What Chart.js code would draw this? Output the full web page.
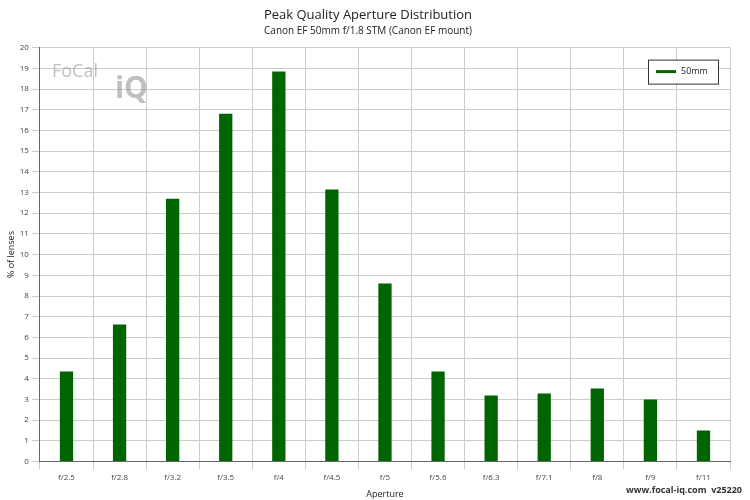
<!DOCTYPE html>
<html>
<head>
<meta charset="utf-8">
<script src="https://cdn.jsdelivr.net/npm/chart.js@4"></script>
<style>
  body { margin: 0; background: #fff; }
  #wrap { position: relative; width: 750px; height: 500px; }
  #footer { position: absolute; right: 8px; bottom: 4px; font: bold 9px "Open Sans", sans-serif; color: #333; }
</style>
</head>
<body>
<div id="wrap">
  <canvas id="chart" width="750" height="500"></canvas>
  <div id="footer">www.focal-iq.com&nbsp; v25220</div>
</div>
<script>
const apertures = ['f/2.5', 'f/2.8', 'f/3.2', 'f/3.5', 'f/4', 'f/4.5', 'f/5', 'f/5.6', 'f/6.3', 'f/7.1', 'f/8', 'f/9', 'f/11'];
const lensPercent = [4.35, 6.62, 12.7, 16.8, 18.84, 13.14, 8.6, 4.35, 3.19, 3.29, 3.53, 3.0, 1.5];

const font = { family: '"Open Sans", sans-serif' };

new Chart(document.querySelector('#chart'), {
    type: 'bar',
    data: {
        labels: apertures,
        datasets: [{
            label: '50mm',
            data: lensPercent,
            backgroundColor: '#006400',
            borderWidth: 0,
            barPercentage: 0.25,
            categoryPercentage: 1
        }]
    },
    options: {
        responsive: false,
        animation: false,
        layout: { padding: { left: 6, right: 20, bottom: 0 } },
        plugins: {
            title: {
                display: true,
                text: 'Peak Quality Aperture Distribution',
                color: '#222',
                font: { ...font, size: 13, weight: 'normal' },
                padding: { top: 7, bottom: 3 }
            },
            subtitle: {
                display: true,
                text: 'Canon EF 50mm f/1.8 STM (Canon EF mount)',
                color: '#222',
                font: { ...font, size: 10 },
                padding: { bottom: 10 }
            },
            legend: { display: false }
        },
        scales: {
            x: {
                grid: { color: '#ccc', offset: true },
                border: { color: '#666' },
                ticks: { color: '#444', font: { ...font, size: 8 } },
                title: { display: true, text: 'Aperture', color: '#222', font: { ...font, size: 9 }, padding: { top: 4, bottom: 0 } }
            },
            y: {
                min: 0,
                max: 20,
                grid: { color: '#ccc' },
                border: { color: '#666' },
                ticks: { stepSize: 1, color: '#444', font: { ...font, size: 8 } },
                title: { display: true, text: '% of lenses', color: '#222', font: { ...font, size: 9 }, padding: 0 }
            }
        }
    },
    plugins: [{
        id: 'boxLegend',
        afterDraw(chart) {
            const ctx = chart.ctx;
            const a = chart.chartArea;
            const w = 70, h = 24, x = a.right - w - 12, y = a.top + 12;
            ctx.save();
            ctx.fillStyle = '#fff';
            ctx.fillRect(x, y, w, h);
            ctx.strokeStyle = '#333';
            ctx.lineWidth = 1;
            ctx.strokeRect(x + 0.5, y + 0.5, w, h);
            ctx.strokeStyle = '#006400';
            ctx.lineWidth = 3;
            ctx.beginPath();
            ctx.moveTo(x + 8, y + h / 2);
            ctx.lineTo(x + 28, y + h / 2);
            ctx.stroke();
            ctx.fillStyle = '#222';
            ctx.font = '9px "Open Sans", sans-serif';
            ctx.textBaseline = 'middle';
            ctx.fillText(chart.data.datasets[0].label, x + 33, y + h / 2);
            // faint logo text
            ctx.fillStyle = 'rgba(150,150,150,0.6)';
            ctx.font = '18px "Open Sans", sans-serif';
            ctx.fillText('FoCal', a.left + 12, a.top + 24);
            ctx.font = 'bold 30px "Open Sans", sans-serif';
            ctx.fillText('iQ', a.left + 75, a.top + 42);
            ctx.restore();
        }
    }]
});
</script>
</body>
</html>
